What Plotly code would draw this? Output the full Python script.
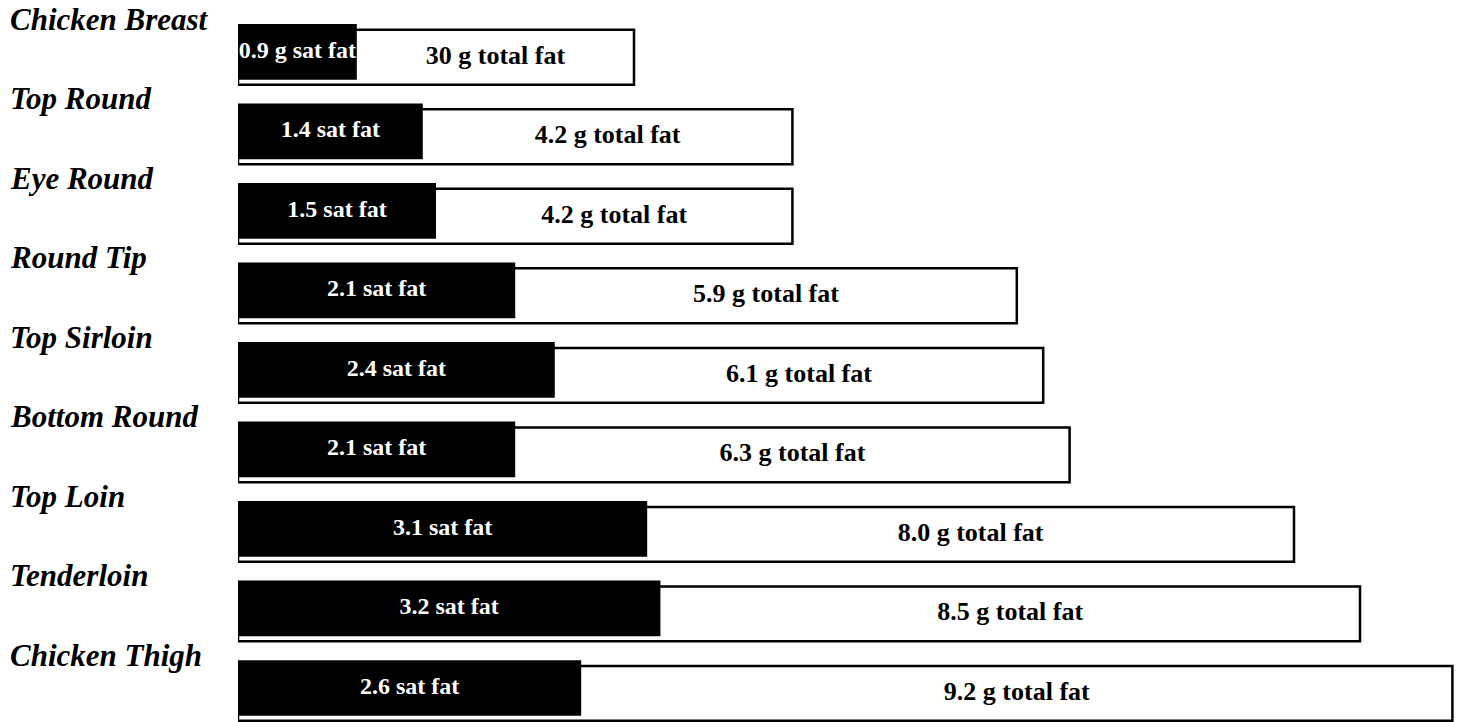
import plotly.graph_objects as go

# Fat content per cut (grams per serving)
cuts = [
    "Chicken Breast", "Top Round", "Eye Round", "Round Tip", "Top Sirloin",
    "Bottom Round", "Top Loin", "Tenderloin", "Chicken Thigh",
]
total_fat = [3.0, 4.2, 4.2, 5.9, 6.1, 6.3, 8.0, 8.5, 9.2]
sat_fat = [0.9, 1.4, 1.5, 2.1, 2.4, 2.1, 3.1, 3.2, 2.6]
total_labels = [
    "30 g total fat", "4.2 g total fat", "4.2 g total fat", "5.9 g total fat",
    "6.1 g total fat", "6.3 g total fat", "8.0 g total fat", "8.5 g total fat",
    "9.2 g total fat",
]
sat_labels = [
    "0.9 g sat fat", "1.4 sat fat", "1.5 sat fat", "2.1 sat fat", "2.4 sat fat",
    "2.1 sat fat", "3.1 sat fat", "3.2 sat fat", "2.6 sat fat",
]

rows = list(range(len(cuts)))
SERIF = "Liberation Serif, Times New Roman, serif"

BOX_W = 0.69      # height of the outlined total-fat box (row units)
SAT_W = 0.70      # height of the black saturated-fat block
SAT_LIFT = 0.068  # black block sits a little higher than the box

fig = go.Figure()

# Outlined total-fat boxes
fig.add_trace(go.Bar(
    x=total_fat, y=rows, orientation="h",
    width=BOX_W, offset=-BOX_W / 2,
    marker=dict(color="white", line=dict(color="black", width=2.5)),
    hoverinfo="skip", showlegend=False,
))

# Solid saturated-fat blocks
fig.add_trace(go.Bar(
    x=sat_fat, y=rows, orientation="h",
    width=SAT_W, offset=-SAT_W / 2 - SAT_LIFT,
    marker=dict(color="black", line=dict(width=0)),
    hoverinfo="skip", showlegend=False,
))

# Saturated-fat labels, centred in the black blocks
fig.add_trace(go.Scatter(
    x=[s / 2 for s in sat_fat],
    y=[r - SAT_LIFT for r in rows],
    mode="text",
    text=[f"<b>{t}</b>" for t in sat_labels],
    textposition="middle center",
    textfont=dict(family=SERIF, size=24, color="white"),
    hoverinfo="skip", showlegend=False, cliponaxis=False,
))

# Total-fat labels, centred in the white part of each box
fig.add_trace(go.Scatter(
    x=[(s + t) / 2 for s, t in zip(sat_fat, total_fat)],
    y=rows,
    mode="text",
    text=[f"<b>{t}</b>" for t in total_labels],
    textposition="middle center",
    textfont=dict(family=SERIF, size=26, color="black"),
    hoverinfo="skip", showlegend=False, cliponaxis=False,
))

# Cut names above-left of each bar
L_MARGIN = 238
PLOT_W = 1478 - L_MARGIN
for r, name in zip(rows, cuts):
    fig.add_annotation(
        x=(8 - L_MARGIN) / PLOT_W, xref="paper", xanchor="left",
        y=r, yref="y", yanchor="middle", yshift=38,
        text=f"<b><i>{name}</i></b>", showarrow=False,
        font=dict(family=SERIF, size=31, color="black"),
    )

fig.update_layout(
    width=1478, height=722,
    margin=dict(l=L_MARGIN, r=0, t=0, b=0),
    paper_bgcolor="white", plot_bgcolor="white",
    barmode="overlay",
    xaxis=dict(range=[0, PLOT_W / 132], visible=False, fixedrange=True),
    yaxis=dict(range=[8.36, -0.72], visible=False, fixedrange=True),
)

fig.write_html("out.html")
